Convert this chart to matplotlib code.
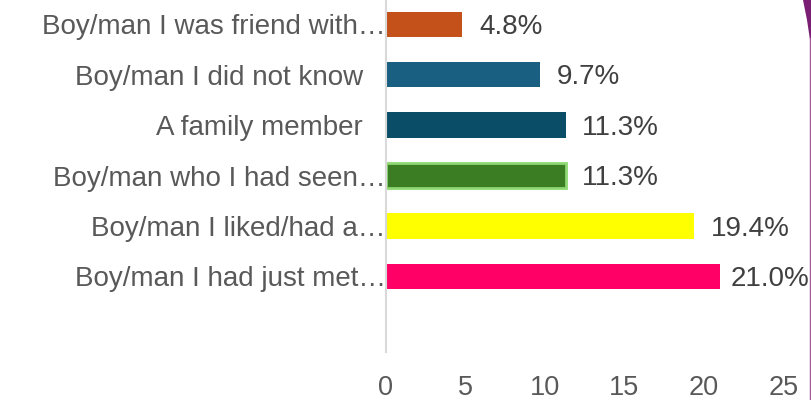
import numpy as np
import matplotlib.pyplot as plt
from matplotlib.patches import Polygon
from matplotlib.lines import Line2D

plt.rcParams['font.family'] = ['Liberation Sans', 'DejaVu Sans']

categories = [
    "Boy/man I was friend with\u2026",
    "Boy/man I did not know   ",
    "A family member   ",
    "Boy/man who I had seen\u2026",
    "Boy/man I liked/had a\u2026",
    "Boy/man I had just met\u2026",
]
values = [4.8, 9.7, 11.3, 11.3, 19.4, 21.0]
labels = ["4.8%", "9.7%", "11.3%", "11.3%", "19.4%", "21.0%"]
colors = ["#C4511A", "#185F82", "#0A4D66", "#3B7D23", "#FFFF00", "#FF0066"]
edges = ["none", "none", "none", "#8ED873", "none", "none"]
xticks = [0, 5, 10, 15, 20, 25]

W, H = 812, 400
fig = plt.figure(figsize=(W / 100, H / 100), dpi=100)
ax = fig.add_axes([386 / W, 48 / H, (783.5 - 386) / W, 353 / H])

y = np.arange(len(categories))
for i in range(len(values)):
    ax.barh(y[i], values[i], height=0.5, color=colors[i],
            edgecolor=edges[i], linewidth=2 if edges[i] != "none" else 0)

ax.set_xlim(0, 25)
ax.set_ylim(len(categories) + 0.5, -0.5)
ax.set_yticks(y)
ax.set_yticklabels(categories)
ax.set_xticks(xticks)
ax.set_xticklabels([str(t) for t in xticks])
ax.tick_params(axis='y', length=0, pad=0, labelsize=20, labelcolor="#595959")
ax.tick_params(axis='x', length=0, pad=16.5, labelsize=19.5, labelcolor="#595959")

for s in ["top", "right", "bottom"]:
    ax.spines[s].set_visible(False)
ax.spines["left"].set_color("#D9D9D9")
ax.spines["left"].set_linewidth(1.5)

texts = []
for i in range(len(values)):
    t = ax.annotate(labels[i], (values[i], y[i]), xytext=(12, -2),
                    textcoords="offset points", ha="left", va="center",
                    fontsize=20, color="#404040")
    texts.append(t)

# keep value labels inside the figure, like the original
fig.canvas.draw()
r = fig.canvas.get_renderer()
for t in texts:
    bb = t.get_window_extent(r)
    if bb.x1 > W - 3:
        dx = (bb.x1 - (W - 3)) * 72 / 100
        ox, oy = t.xyann
        t.xyann = (ox - dx, oy)

# purple slide decoration at right edge
fig.patches.append(Polygon([[803 / W, 1], [812 / W, 1], [812 / W, 1 - 45 / H],
                            [810 / W, 1 - 40 / H], [807 / W, 1 - 20 / H]],
                           closed=True, transform=fig.transFigure,
                           facecolor="#7A1E74", edgecolor="none"))
fig.lines.append(Line2D([810.5 / W, 810.5 / W], [0, 1 - 38 / H],
                        transform=fig.transFigure, color="#A3569C", linewidth=1))

fig.savefig("out.png", dpi=100)
